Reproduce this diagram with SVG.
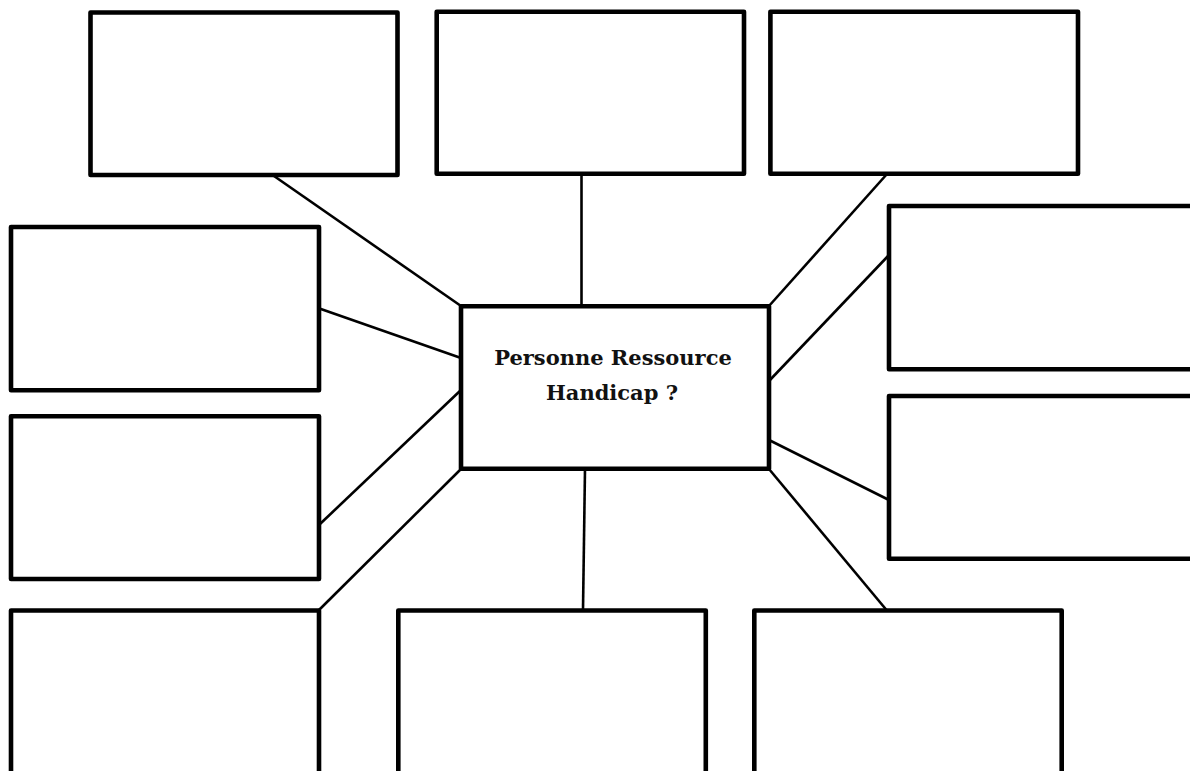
<svg xmlns="http://www.w3.org/2000/svg" width="1190" height="771" viewBox="0 0 1190 771">
  <style>
    .box { fill: #ffffff; stroke: #000000; stroke-width: 4.6; stroke-linejoin: round; }
    .link { stroke: #000000; stroke-width: 2.6; fill: none; stroke-linecap: butt; }
    .label { font-family: "DejaVu Serif", "Liberation Serif", serif; font-weight: bold; font-size: 21px; fill: #111111; text-anchor: middle; }
  </style>
  <rect x="0" y="0" width="1190" height="771" fill="#ffffff"/>

  <!-- spokes from the central box to each surrounding box -->
  <g id="connectors">
    <line class="link" x1="274" y1="176" x2="461" y2="306"/>
    <line class="link" x1="581.5" y1="174" x2="581.5" y2="306"/>
    <line class="link" x1="887" y1="174" x2="769" y2="306"/>
    <line class="link" x1="318" y1="308" x2="461" y2="358"/>
    <line class="link" x1="320" y1="524" x2="461" y2="390"/>
    <line class="link" x1="889" y1="255" x2="769" y2="381"/>
    <line class="link" x1="769" y1="440" x2="889" y2="500"/>
    <line class="link" x1="461" y1="469" x2="319" y2="610"/>
    <line class="link" x1="585" y1="469" x2="583" y2="610"/>
    <line class="link" x1="769" y1="469" x2="886.5" y2="610"/>
  </g>

  <g id="center">
    <rect class="box" x="461" y="306.3" width="308" height="162.4"/>
    <text class="label" x="613" y="365">Personne Ressource</text>
    <text class="label" x="612" y="400">Handicap ?</text>
  </g>

  <g id="top-left"><rect class="box" x="90.5" y="12.5" width="307" height="162.5"/></g>
  <g id="top-middle"><rect class="box" x="436.7" y="11.7" width="307.3" height="162"/></g>
  <g id="top-right"><rect class="box" x="770.4" y="11.7" width="307.6" height="162"/></g>

  <g id="left-upper"><rect class="box" x="11" y="227" width="308" height="163.3"/></g>
  <g id="left-lower"><rect class="box" x="11" y="416.3" width="308" height="162.7"/></g>

  <g id="right-upper"><rect class="box" x="889" y="206" width="320" height="163.3"/></g>
  <g id="right-lower"><rect class="box" x="889" y="396" width="320" height="162.7"/></g>

  <g id="bottom-left"><rect class="box" x="11" y="610.5" width="308" height="200"/></g>
  <g id="bottom-middle"><rect class="box" x="398.3" y="610.5" width="307.5" height="200"/></g>
  <g id="bottom-right"><rect class="box" x="754.3" y="610.5" width="307.4" height="200"/></g>
</svg>
